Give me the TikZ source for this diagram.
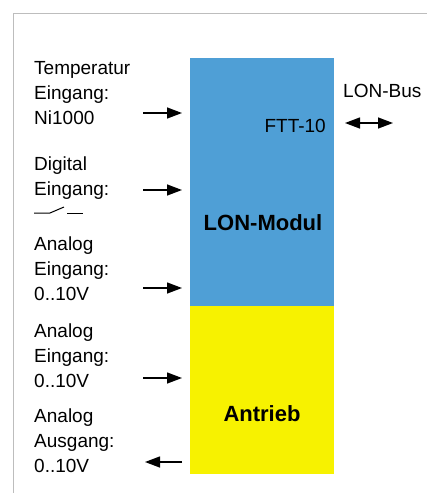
\documentclass[tikz,border=0pt]{standalone}
\usepackage{fontspec}
\setmainfont{Liberation Sans}
\usetikzlibrary{positioning, arrows.meta}
\definecolor{lonblue}{HTML}{4F9FD6}
\definecolor{antriebgelb}{HTML}{F7F200}
\definecolor{rahmengrau}{HTML}{BDBDBD}

\begin{document}
\begin{tikzpicture}[
    x=1pt, y=-1pt,
    block/.style={minimum width=144pt, inner sep=0pt, outer sep=0pt},
    modul/.style={block, fill=lonblue, minimum height=248pt},
    antrieb/.style={block, fill=antriebgelb, minimum height=168pt},
    titel/.style={inner sep=0pt, anchor=base, font=\fontsize{22}{26}\selectfont\bfseries},
    lbl/.style={align=left, inner sep=0pt, anchor=base west, font=\fontsize{19}{25}\selectfont},
    arr/.style={-{Triangle[length=15pt,width=11pt]}, line width=1.4pt},
    dbl/.style={{Triangle[length=15pt,width=11pt]}-{Triangle[length=15pt,width=11pt]}, line width=1.4pt},
]
\useasboundingbox (0,0) rectangle (427,493);
\draw[rahmengrau, line width=1pt] (13,493) -- (13,13) -- (427,13);

\node[modul] (modul) at (262,182) {};
\node[antrieb] (antrieb) at (262,390) {};
\node[titel] (modultxt) at (263,230) {LON-Modul};
\node[titel] (antriebtxt) at (262,421) {Antrieb};
\node[lbl, anchor=base east] (ftt) at (326,132) {FTT-10};
\node[lbl] (bus) at (343,97) {LON-Bus};

\node[lbl] (temp) at (34,124) {Temperatur\\Eingang:\\Ni1000};
\node[lbl] (digital) at (34,195) {Digital\\Eingang:};
\node[lbl] (analog1) at (34,300) {Analog\\Eingang:\\0..10V};
\node[lbl] (analog2) at (34,387) {Analog\\Eingang:\\0..10V};
\node[lbl] (ausgang) at (34,472) {Analog\\Ausgang:\\0..10V};

\draw[line width=1pt] (34,213) -- (50,213) -- (64,207);
\draw[line width=1pt] (67,213) -- (83,213);

\coordinate (inTemp) at (143,113);
\coordinate (inDigital) at (143,190);
\coordinate (inAnalog1) at (143,288);
\coordinate (inAnalog2) at (143,378);
\coordinate (outAnalog) at (145,462);
\coordinate (busL) at (345,123);
\coordinate (busR) at (393,123);

\draw[arr, shorten >=8pt] (inTemp) -- (inTemp -| modul.west);
\draw[arr, shorten >=8pt] (inDigital) -- (inDigital -| modul.west);
\draw[arr, shorten >=8pt] (inAnalog1) -- (inAnalog1 -| modul.west);
\draw[arr, shorten >=8pt] (inAnalog2) -- (inAnalog2 -| antrieb.west);
\draw[arr, shorten <=8pt] (outAnalog -| antrieb.west) -- (outAnalog);
\draw[dbl] (busL) -- (busR);
\end{tikzpicture}
\end{document}
